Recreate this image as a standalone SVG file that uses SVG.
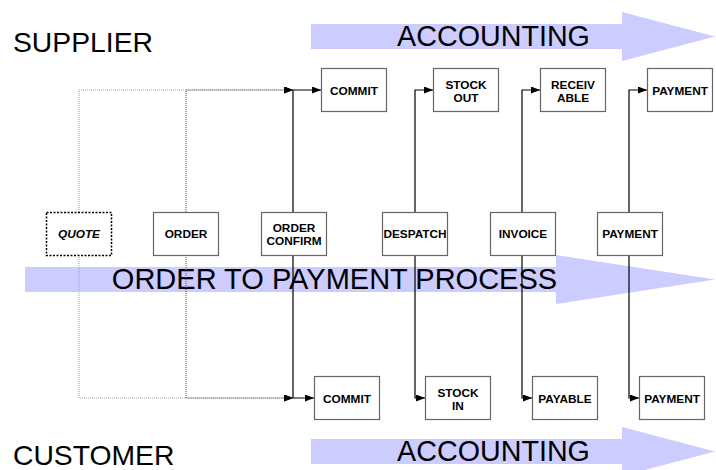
<svg xmlns="http://www.w3.org/2000/svg" width="716" height="470" viewBox="0 0 716 470">
<defs>
<style>
.big{font-family:"Liberation Sans",Arial,sans-serif;font-size:28px;fill:#000}
.band{fill:#CCCCFF}
.box rect{fill:#fff;stroke:#666;stroke-width:1.2}
.box text{font-family:"Liberation Sans",Arial,sans-serif;font-size:11.8px;font-weight:bold;text-anchor:middle;fill:#000}
.solid{fill:none;stroke:#000;stroke-width:1.2}
.dotA{fill:none;stroke:#aaa;stroke-width:1.2;stroke-dasharray:1 1}
.dotB{fill:none;stroke:#666;stroke-width:1.2;stroke-dasharray:1 1}
</style>
<marker id="ah" markerUnits="userSpaceOnUse" markerWidth="10" markerHeight="8" refX="9" refY="3.5" orient="auto">
<path d="M0,0 L9,3.5 L0,7 z" fill="#000"/>
</marker>
</defs>
<rect width="716" height="470" fill="#fff"/>
<g id="bands">
<polygon class="band" points="311,24 622,24 622,12 715,36.5 622,61 622,49 311,49"/>
<polygon class="band" points="25,267 556,267 556,255 715,279.5 556,304 556,292 25,292"/>
<polygon class="band" points="311,439 622,439 622,427 715,451.5 622,476 622,464 311,464"/>
</g>
<g id="labels">
<text class="big" x="13" y="51.5" style="font-size:28.3px">SUPPLIER</text>
<text class="big" x="13" y="465" style="font-size:28.3px">CUSTOMER</text>
<text class="big" x="493.5" y="45.5" text-anchor="middle" style="font-size:28.7px">ACCOUNTING</text>
<text class="big" x="493.5" y="461" text-anchor="middle" style="font-size:28.7px">ACCOUNTING</text>
<text class="big" x="334.5" y="289" text-anchor="middle" style="font-size:29px">ORDER TO PAYMENT PROCESS</text>
</g>
<g id="connectors">
<path class="dotA" d="M79,212 V90 H293" marker-end="url(#ah)"/>
<path class="dotA" d="M79,255 V398 H293" marker-end="url(#ah)"/>
<path class="dotB" d="M186,212 V90 H293" marker-end="url(#ah)"/>
<path class="dotB" d="M186,255 V398 H293" marker-end="url(#ah)"/>
<path class="solid" d="M293,212 V90 H321" marker-end="url(#ah)"/>
<path class="solid" d="M293,255 V398 H314" marker-end="url(#ah)"/>
<path class="solid" d="M415,212 V90 H433" marker-end="url(#ah)"/>
<path class="solid" d="M415,255 V398 H425" marker-end="url(#ah)"/>
<path class="solid" d="M522,212 V90 H540" marker-end="url(#ah)"/>
<path class="solid" d="M522,255 V398 H532" marker-end="url(#ah)"/>
<path class="solid" d="M629,212 V90 H647" marker-end="url(#ah)"/>
<path class="solid" d="M629,255 V398 H639" marker-end="url(#ah)"/>
</g>
<g id="quote" class="box"><rect x="46.5" y="212.5" width="65" height="43" style="stroke:#000;stroke-dasharray:2 1.5;stroke-width:1.5"/><text x="79" y="238" font-style="italic">QUOTE</text></g>
<g id="order" class="box"><rect x="153.5" y="212.5" width="65" height="43"/><text x="186" y="238">ORDER</text></g>
<g id="order-confirm" class="box"><rect x="261.5" y="212.5" width="65" height="43"/><text x="294" y="231.5">ORDER</text><text x="294" y="245">CONFIRM</text></g>
<g id="despatch" class="box"><rect x="382.5" y="212.5" width="65" height="43"/><text x="415" y="238">DESPATCH</text></g>
<g id="invoice" class="box"><rect x="490.5" y="212.5" width="65" height="43"/><text x="523" y="238">INVOICE</text></g>
<g id="payment-mid" class="box"><rect x="597.5" y="212.5" width="65" height="43"/><text x="630" y="238">PAYMENT</text></g>
<g id="commit-top" class="box"><rect x="321.5" y="68.5" width="65" height="43"/><text x="354" y="95">COMMIT</text></g>
<g id="stock-out" class="box"><rect x="433.5" y="68.5" width="65" height="43"/><text x="466" y="88.5">STOCK</text><text x="466" y="102">OUT</text></g>
<g id="receivable" class="box"><rect x="540.5" y="68.5" width="65" height="43"/><text x="573" y="88.5">RECEIV</text><text x="573" y="102">ABLE</text></g>
<g id="payment-top" class="box"><rect x="647.5" y="68.5" width="65" height="43"/><text x="680" y="95">PAYMENT</text></g>
<g id="commit-bottom" class="box"><rect x="314.5" y="376.5" width="65" height="43"/><text x="347" y="403">COMMIT</text></g>
<g id="stock-in" class="box"><rect x="425.5" y="376.5" width="65" height="43"/><text x="458" y="396.5">STOCK</text><text x="458" y="410">IN</text></g>
<g id="payable" class="box"><rect x="532.5" y="376.5" width="65" height="43"/><text x="565" y="403">PAYABLE</text></g>
<g id="payment-bottom" class="box"><rect x="639.5" y="376.5" width="65" height="43"/><text x="672" y="403">PAYMENT</text></g>
</svg>
